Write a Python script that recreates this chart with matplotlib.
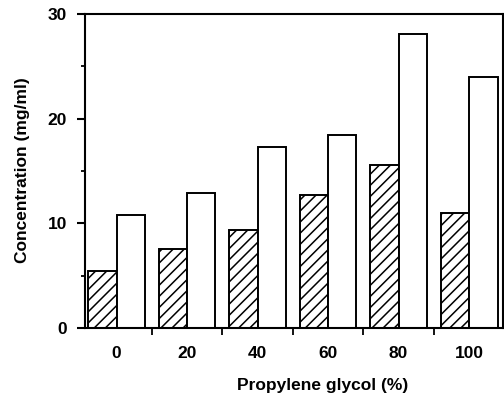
import matplotlib
matplotlib.use("Agg")
import matplotlib.pyplot as plt
import numpy as np
from matplotlib.ticker import MultipleLocator, FixedLocator

categories = ["0", "20", "40", "60", "80", "100"]
hatched_vals = [5.4, 7.55, 9.35, 12.75, 15.6, 10.95]
white_vals = [10.75, 12.9, 17.3, 18.4, 28.1, 24.0]

plt.rcParams['font.family'] = ['Liberation Sans', 'DejaVu Sans']
plt.rcParams['font.weight'] = 'bold'
plt.rcParams['hatch.linewidth'] = 1.1

fig = plt.figure(figsize=(5.04, 3.96), dpi=100)
ax = fig.add_axes([85/504, 68/396, 418/504, 314/396])

x = np.arange(len(categories))
w = 0.404
ax.bar(x - w/2, hatched_vals, width=w, facecolor='white', edgecolor='black',
       linewidth=1.4, hatch='///')
ax.bar(x + w/2, white_vals, width=w, facecolor='white', edgecolor='black',
       linewidth=1.4)

ax.set_xlim(-0.447, 5.482)
ax.set_ylim(0, 30)

ax.set_xticks(x)
ax.set_xticklabels(categories, fontsize=12.5, fontweight='bold')
ax.xaxis.set_minor_locator(FixedLocator(x[:-1] + 0.5))
ax.tick_params(axis='x', which='major', length=0, pad=13)
ax.tick_params(axis='x', which='minor', length=5, width=1.3, direction='out')

ax.set_yticks([0, 10, 20, 30])
ax.yaxis.set_minor_locator(MultipleLocator(5))
ax.set_yticklabels(["0", "10", "20", "30"], fontsize=12.5, fontweight='bold')
ax.tick_params(axis='y', which='major', length=6, width=1.5, direction='out', pad=7)
ax.tick_params(axis='y', which='minor', length=3, width=1.3, direction='out')

for s in ax.spines.values():
    s.set_linewidth(1.5)

ax.set_ylabel("Concentration (mg/ml)", fontsize=12.5, fontweight='bold')
ax.yaxis.set_label_coords(-0.132, 0.503)
ax.set_xlabel("Propylene glycol (%)", fontsize=12.5, fontweight='bold')
ax.xaxis.set_label_coords(0.569, -0.16)

fig.savefig("out.png", dpi=100)
